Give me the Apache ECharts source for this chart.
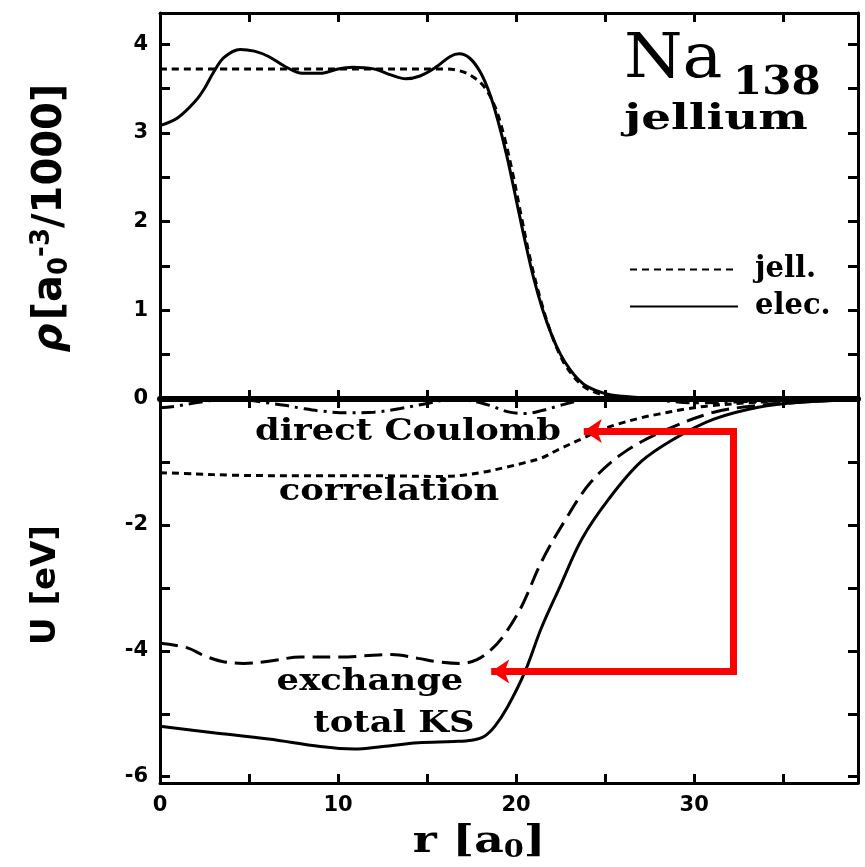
<!DOCTYPE html>
<html>
<head>
<meta charset="utf-8">
<script src="https://cdn.jsdelivr.net/npm/echarts@6/dist/echarts.min.js"></script>
<style>
  html, body { margin: 0; padding: 0; background: #fff; }
  #chart { width: 865px; height: 867px; }
</style>
</head>
<body>
<div id="chart"></div>
<script>
// top panel: density (rho, a0^-3/1000)
var rJell   = [0, 4, 8, 12, 16, 16.8, 17.5, 18.2, 18.8, 19.3, 19.8, 20.3, 20.8, 21.4, 22, 22.6, 23.2, 23.8, 24.5, 25.5, 27, 29, 39.2];
var rhoJell = [3.72, 3.72, 3.72, 3.72, 3.72, 3.70, 3.64, 3.52, 3.30, 2.98, 2.55, 2.05, 1.57, 1.10, 0.72, 0.44, 0.26, 0.14, 0.07, 0.025, 0.005, 0, 0];

var rElec   = [0, 1, 2, 2.5, 3, 3.6, 4.5, 5.3, 6.1, 7, 8, 9, 10, 10.8, 12, 13, 13.8, 14.6, 15.5, 16.3, 16.8, 17.4, 18, 18.5, 19, 19.5, 20, 20.5, 21, 21.5, 22, 22.5, 23, 23.5, 24, 25, 26, 27, 29, 31, 39.2];
var rhoElec = [3.08, 3.17, 3.36, 3.5, 3.68, 3.85, 3.94, 3.92, 3.86, 3.75, 3.67, 3.67, 3.72, 3.74, 3.72, 3.65, 3.61, 3.64, 3.74, 3.86, 3.89, 3.84, 3.68, 3.45, 3.12, 2.72, 2.25, 1.78, 1.35, 1.0, 0.72, 0.5, 0.34, 0.22, 0.14, 0.06, 0.03, 0.015, 0.005, 0, 0];

// bottom panel: potentials (U, eV)
var rCoul = [0, 1, 2, 3, 4, 5, 6, 7, 8, 9, 10.5, 12, 13.5, 15, 16.3, 17.5, 18.5, 19.5, 20.5, 21.5, 22.5, 23.5, 24.5, 26, 28, 30, 33, 36, 39.2];
var uCoul = [-0.14, -0.11, -0.06, -0.02, 0, -0.02, -0.06, -0.1, -0.15, -0.19, -0.22, -0.21, -0.15, -0.07, -0.01, -0.03, -0.1, -0.2, -0.23, -0.18, -0.1, -0.03, 0.01, 0.01, -0.02, -0.06, -0.04, -0.02, 0];

var rCorr = [0, 2, 4, 8, 12, 15.8, 17, 18.2, 19.5, 20.5, 21.4, 22.4, 23.7, 24.7, 25.7, 27, 28, 29.5, 30.8, 33, 35, 37, 39.2];
var uCorr = [-1.17, -1.19, -1.21, -1.22, -1.22, -1.23, -1.21, -1.16, -1.08, -1.01, -0.94, -0.8, -0.63, -0.5, -0.4, -0.3, -0.24, -0.16, -0.11, -0.06, -0.03, -0.01, 0];

var rExch = [0, 1.5, 2.5, 3.5, 4.7, 6, 7.9, 10.2, 11.5, 13, 14.5, 15.5, 16.9, 17.8, 18.6, 19.3, 20.3, 21.4, 22.7, 24.2, 26.1, 28.5, 31.1, 33, 35, 37, 39.2];
var uExch = [-3.88, -3.95, -4.08, -4.17, -4.2, -4.17, -4.1, -4.1, -4.08, -4.06, -4.12, -4.17, -4.2, -4.14, -3.98, -3.76, -3.3, -2.6, -1.95, -1.32, -0.84, -0.48, -0.21, -0.12, -0.07, -0.03, -0.01];

var rTot = [0, 3, 6.1, 9, 10.9, 12.5, 14.5, 16.5, 17.5, 18.2, 18.8, 19.5, 20.5, 21.4, 22.4, 23.7, 25.2, 27, 28.9, 31.1, 33.6, 36, 39.2];
var uTot = [-5.2, -5.3, -5.4, -5.52, -5.56, -5.52, -5.46, -5.44, -5.42, -5.36, -5.2, -4.9, -4.33, -3.65, -3.02, -2.22, -1.59, -1.0, -0.63, -0.32, -0.13, -0.05, -0.01];

// red bracket
var arrowTop = [[32.4, -0.51], [23.8, -0.51]];
var arrowBot = [[32.4, -4.33], [18.6, -4.33]];
var bracket  = [[32.2, -0.46], [32.2, -4.38]];

var xTicks = [0, 5, 10, 15, 20, 25, 30, 35];
var xLabels = [0, 10, 20, 30];
var rhoTicks = [0, 0.5, 1, 1.5, 2, 2.5, 3, 3.5, 4];
var rhoLabels = [0, 1, 2, 3, 4];
var uTicks = [-6, -5, -4, -3, -2, -1, 0];
var uLabels = [-6, -4, -2];

function pairs(xs, ys) {
    return xs.map(function (x, i) { return [x, ys[i]]; });
}

var ink = '#000';
var serif = '"DejaVu Serif"';
var sans = '"DejaVu Sans"';

function xAx(grid, pos, labels) {
    return {
        type: 'value', gridIndex: grid, position: pos, min: 0, max: 39.2,
        axisLine: { show: true, onZero: false, lineStyle: { color: ink, width: pos === 'bottom' && grid === 0 ? 6 : 3 } },
        axisTick: { show: true, inside: true, length: 9, customValues: xTicks, lineStyle: { color: ink, width: 3 } },
        axisLabel: { show: !!labels, customValues: xLabels, margin: 12, color: ink, fontFamily: sans, fontWeight: 'bold', fontSize: 21 },
        splitLine: { show: false }
    };
}

function yAx(grid, pos, min, max, ticks, labels) {
    return {
        type: 'value', gridIndex: grid, position: pos, min: min, max: max,
        axisLine: { show: true, onZero: false, lineStyle: { color: ink, width: 3 } },
        axisTick: { show: true, inside: true, length: 10, customValues: ticks, lineStyle: { color: ink, width: 3 } },
        axisLabel: { show: !!labels, customValues: labels || [], margin: 12, color: ink, fontFamily: sans, fontWeight: 'bold', fontSize: 21 },
        splitLine: { show: false }
    };
}

function curve(name, xi, yi, xs, ys, dash, w) {
    return {
        name: name, type: 'line', xAxisIndex: xi, yAxisIndex: yi,
        data: pairs(xs, ys), symbol: 'none', smooth: 0.35, z: 3,
        itemStyle: { color: ink },
        lineStyle: { color: ink, width: w || 3, type: dash }
    };
}

// wide bold serif label, stretched a little to get the look of the original lettering
function note(txt, x, y, size, sx) {
    return {
        type: 'text', x: x, y: y, scaleX: sx || 1.22,
        style: { text: txt, font: 'bold ' + size + 'px ' + serif, fill: ink, align: 'center', verticalAlign: 'middle' }
    };
}

var myChart = echarts.init(document.getElementById('chart'));

var option = {
    animation: false,
    backgroundColor: '#fff',
    grid: [
        { left: 160, right: 7, top: 13, height: 386 },
        { left: 160, right: 7, top: 399, height: 384 }
    ],
    xAxis: [
        xAx(0, 'bottom', false),
        xAx(0, 'top', false),
        xAx(1, 'bottom', true),
        xAx(1, 'top', false)
    ],
    yAxis: [
        yAx(0, 'left', 0, 4.35, rhoTicks, rhoLabels),
        yAx(0, 'right', 0, 4.35, rhoTicks, null),
        yAx(1, 'left', -6.1, 0, uTicks, uLabels),
        yAx(1, 'right', -6.1, 0, uTicks, null)
    ],
    legend: {
        orient: 'vertical', left: 624, top: 250, itemWidth: 108, itemHeight: 14, itemGap: 8,
        selectedMode: false, data: ['jell.', 'elec.'],
        itemStyle: { opacity: 0 },
        textStyle: { color: ink, fontFamily: serif, fontWeight: 'bold', fontSize: 29, padding: [0, 0, 0, 12] }
    },
    series: [
        curve('jell.', 0, 0, rJell, rhoJell, [7, 5]),
        curve('elec.', 0, 0, rElec, rhoElec, 'solid'),
        curve('direct Coulomb', 2, 2, rCoul, uCoul, [14, 6, 3, 6]),
        curve('correlation', 2, 2, rCorr, uCorr, [7, 5]),
        curve('exchange', 2, 2, rExch, uExch, [18, 8]),
        curve('total KS', 2, 2, rTot, uTot, 'solid'),
        {
            type: 'lines', coordinateSystem: 'cartesian2d', xAxisIndex: 2, yAxisIndex: 2, z: 5,
            symbol: ['none', 'arrow'], symbolSize: 18,
            lineStyle: { color: '#ff0000', width: 7, opacity: 1, curveness: 0 },
            data: [{ coords: arrowTop }, { coords: arrowBot }]
        },
        {
            type: 'lines', coordinateSystem: 'cartesian2d', xAxisIndex: 2, yAxisIndex: 2, z: 5,
            symbol: 'none',
            lineStyle: { color: '#ff0000', width: 7, opacity: 1, curveness: 0 },
            data: [{ coords: bracket }]
        }
    ],
    graphic: [
        { type: 'text', x: 624, y: 61, scaleX: 1.08, style: { text: 'Na', font: '62px ' + serif, fill: ink, verticalAlign: 'middle' } },
        { type: 'text', x: 733, y: 84, scaleX: 1.05, style: { text: '138', font: 'bold 40px ' + serif, fill: ink, verticalAlign: 'middle' } },
        note('jellium', 716, 120, 36, 1.3),
        note('direct Coulomb', 408, 432, 29),
        note('correlation', 389, 492, 29),
        note('exchange', 370, 682, 29),
        note('total KS', 394, 724, 29),
        {
            type: 'text', x: 51, y: 218, rotation: Math.PI / 2,
            style: {
                text: '{g|ρ} {t|[a}{s|0}{p|-3}{t|/1000]}', fill: ink, align: 'center', verticalAlign: 'middle',
                rich: {
                    g: { font: 'bold italic 40px ' + sans, fill: ink },
                    t: { font: 'bold 40px ' + sans, fill: ink },
                    s: { font: 'bold 26px ' + sans, fill: ink, padding: [18, 0, 0, 0] },
                    p: { font: 'bold 26px ' + sans, fill: ink, padding: [0, 0, 18, 0] }
                }
            }
        },
        { type: 'text', x: 46, y: 585, rotation: Math.PI / 2, style: { text: 'U [eV]', font: 'bold 34px ' + sans, fill: ink, align: 'center', verticalAlign: 'middle' } },
        {
            type: 'text', x: 479, y: 842, scaleX: 1.2,
            style: {
                text: '{t|r [a}{s|0}{t|]}', fill: ink, align: 'center', verticalAlign: 'middle',
                rich: {
                    t: { font: 'bold 38px ' + serif, fill: ink },
                    s: { font: 'bold 24px ' + serif, fill: ink, padding: [18, 0, 0, 0] }
                }
            }
        }
    ]
};

myChart.setOption(option);
</script>
</body>
</html>
